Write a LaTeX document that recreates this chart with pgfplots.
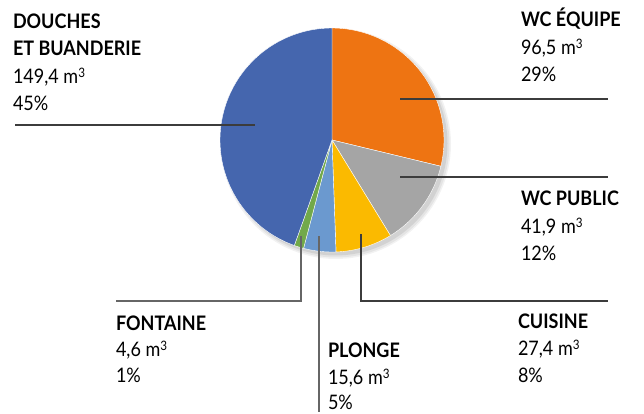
\documentclass[border=0pt]{standalone}
\usepackage{pgfplots}
\pgfplotsset{compat=1.18}
\usepackage{fontspec}
\setmainfont{Lato}[FakeStretch=0.9]
\definecolor{cBlue}{HTML}{4566AE}
\definecolor{cOrange}{HTML}{EE7412}
\definecolor{cGray}{HTML}{A5A5A5}
\definecolor{cYellow}{HTML}{FBBA00}
\definecolor{cLBlue}{HTML}{6B99CF}
\definecolor{cGreen}{HTML}{72A94A}
\definecolor{cLine}{HTML}{3C3C3C}
\newcommand\cube{\raisebox{6bp}{\fontsize{13bp}{13bp}\selectfont 3}}
% values (m3)
\def\vWCE{96.5}
\def\vWCP{41.9}
\def\vCUI{27.4}
\def\vPLO{15.6}
\def\vFON{4.6}
\def\vDOU{149.4}
\pgfmathsetmacro\tot{\vWCE+\vWCP+\vCUI+\vPLO+\vFON+\vDOU}
\pgfmathsetmacro\aA{90}
\pgfmathsetmacro\aB{\aA-\vWCE/\tot*360}
\pgfmathsetmacro\aC{\aB-\vWCP/\tot*360}
\pgfmathsetmacro\aD{\aC-\vCUI/\tot*360}
\pgfmathsetmacro\aE{\aD-\vPLO/\tot*360}
\pgfmathsetmacro\aF{\aE-\vFON/\tot*360}
\pgfmathsetmacro\aG{\aF-\vDOU/\tot*360}
\def\cx{332}
\def\cy{140}
\def\R{112}
\tikzset{lbl/.style={font=\fontsize{20bp}{27bp}\selectfont, inner sep=0pt, outer sep=0pt, anchor=base west, text=black}}
\begin{document}
\begin{tikzpicture}
\begin{axis}[width=644bp,height=414bp,scale only axis,
  xmin=0,xmax=644,ymin=0,ymax=414,y dir=reverse,hide axis,clip=false]
% soft shadow
\addplot[draw=none,fill=black,opacity=0.05,domain=0:360,samples=120,variable=\t] ({\cx+4+(\R+3)*cos(t)},{\cy+4-(\R+3)*sin(t)}) -- cycle;
\addplot[draw=none,fill=black,opacity=0.06,domain=0:360,samples=120,variable=\t] ({\cx+4+(\R+1.5)*cos(t)},{\cy+4-(\R+1.5)*sin(t)}) -- cycle;
\addplot[draw=none,fill=black,opacity=0.08,domain=0:360,samples=120,variable=\t] ({\cx+3.5+\R*cos(t)},{\cy+3.5-\R*sin(t)}) -- cycle;
% wedges
\addplot[fill=cOrange,draw=white,line width=0.4bp,domain=\aA:\aB,samples=80,variable=\t] ({\cx+\R*cos(t)},{\cy-\R*sin(t)}) -- (axis cs:\cx,\cy) -- cycle;
\addplot[fill=cGray,draw=white,line width=0.4bp,domain=\aB:\aC,samples=50,variable=\t] ({\cx+\R*cos(t)},{\cy-\R*sin(t)}) -- (axis cs:\cx,\cy) -- cycle;
\addplot[fill=cYellow,draw=white,line width=0.4bp,domain=\aC:\aD,samples=40,variable=\t] ({\cx+\R*cos(t)},{\cy-\R*sin(t)}) -- (axis cs:\cx,\cy) -- cycle;
\addplot[fill=cLBlue,draw=white,line width=0.4bp,domain=\aD:\aE,samples=30,variable=\t] ({\cx+\R*cos(t)},{\cy-\R*sin(t)}) -- (axis cs:\cx,\cy) -- cycle;
\addplot[fill=cGreen,draw=white,line width=0.4bp,domain=\aE:\aF,samples=10,variable=\t] ({\cx+\R*cos(t)},{\cy-\R*sin(t)}) -- (axis cs:\cx,\cy) -- cycle;
\addplot[fill=cBlue,draw=white,line width=0.4bp,domain=\aF:\aG,samples=150,variable=\t] ({\cx+\R*cos(t)},{\cy-\R*sin(t)}) -- (axis cs:\cx,\cy) -- cycle;
% leader lines
\addplot[cLine,line width=1.3bp] coordinates {(15,125) (255,125)};
\addplot[cLine,line width=1.3bp] coordinates {(400,99) (608,99)};
\addplot[cLine,line width=1.3bp] coordinates {(400,177) (608,177)};
\addplot[cLine,line width=1.3bp] coordinates {(361,234) (361,301) (608,301)};
\addplot[black!60,line width=1.3bp] coordinates {(319,236) (319,412)};
\addplot[black!60,line width=1.3bp] coordinates {(301,236) (301,301) (116,301)};
% labels
\node[lbl] at (axis cs:13,29) {\bfseries DOUCHES};
\node[lbl] at (axis cs:13,56) {\bfseries ET BUANDERIE};
\node[lbl] at (axis cs:13,84) {149,4 m\cube};
\node[lbl] at (axis cs:13,111) {45\%};
\node[lbl] at (axis cs:521,27) {\bfseries WC ÉQUIPE};
\node[lbl] at (axis cs:521,55) {96,5 m\cube};
\node[lbl] at (axis cs:521,82) {29\%};
\node[lbl] at (axis cs:521,205) {\bfseries WC PUBLIC};
\node[lbl] at (axis cs:521,233) {41,9 m\cube};
\node[lbl] at (axis cs:521,260) {12\%};
\node[lbl] at (axis cs:518,328) {\bfseries CUISINE};
\node[lbl] at (axis cs:518,355) {27,4 m\cube};
\node[lbl] at (axis cs:518,382) {8\%};
\node[lbl] at (axis cs:328,357) {\bfseries PLONGE};
\node[lbl] at (axis cs:328,384) {15,6 m\cube};
\node[lbl] at (axis cs:328,409) {5\%};
\node[lbl] at (axis cs:116,330) {\bfseries FONTAINE};
\node[lbl] at (axis cs:116,356) {4,6 m\cube};
\node[lbl] at (axis cs:116,382) {1\%};
\end{axis}
\pgfresetboundingbox
\useasboundingbox (current axis.south west) rectangle (current axis.north east);
\end{tikzpicture}
\end{document}
